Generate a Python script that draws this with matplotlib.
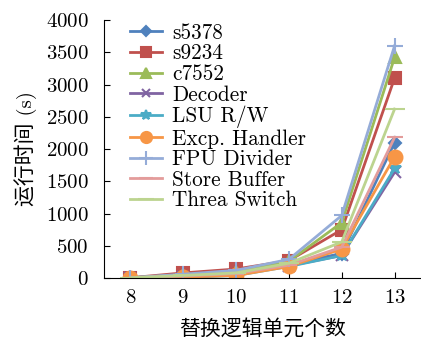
import matplotlib
matplotlib.use("Agg")
import matplotlib.pyplot as plt

plt.rcParams['font.family'] = ['cmr10', 'Noto Sans CJK SC']
plt.rcParams['axes.formatter.use_mathtext'] = True

x = [8, 9, 10, 11, 12, 13]
names = ["s5378", "s9234", "c7552", "Decoder", "LSU R/W",
         "Excp. Handler", "FPU Divider", "Store Buffer", "Threa Switch"]
s5378 = [5, 50, 100, 220, 380, 2100]
s9234 = [5, 80, 140, 270, 750, 3100]
c7552 = [5, 50, 100, 260, 860, 3420]
decoder = [3, 20, 50, 190, 350, 1640]
lsu = [3, 10, 40, 180, 350, 1700]
excp = [3, 15, 40, 180, 450, 1880]
fpu = [5, 60, 120, 290, 970, 3600]
store = [4, 30, 70, 200, 480, 2180]
threa = [4, 40, 80, 230, 560, 2620]
series = [s5378, s9234, c7552, decoder, lsu, excp, fpu, store, threa]

colors = ["#4F81BD", "#C0504D", "#9BBB59", "#8064A2", "#4BACC6",
          "#F79646", "#95ACD8", "#E39C9B", "#BCD48F"]
markers = ["D", "s", "^", "x", "*", "o", "+", "_", "_"]
msizes = [6, 9, 9, 8, 9, 10, 12, 12, 14]

fig = plt.figure(figsize=(4.21, 3.45), dpi=100)
ax = fig.add_axes([0.247, 0.194, 0.753, 0.748])

for vals, name, c, m, ms in zip(series, names, colors, markers, msizes):
    ax.plot(x, vals, color=c, marker=m, markersize=ms, linewidth=2,
            markeredgewidth=1.5, label=name)

ax.set_xlim(7.5, 13.5)
ax.set_ylim(0, 4000)
ax.set_xticks(x)
ax.set_yticks(range(0, 4001, 500))
ax.tick_params(direction='in', labelsize=15, length=4)
ax.tick_params(axis='y', pad=11)
ax.tick_params(axis='x', pad=8)
ax.spines['top'].set_visible(False)
ax.spines['right'].set_visible(False)
ax.set_xlabel("替换逻辑单元个数", fontsize=15, labelpad=8)
ax.set_ylabel("运行时间 (s)", fontsize=15, labelpad=6)

leg = ax.legend(loc='upper left', bbox_to_anchor=(0.055, 1.02), frameon=False,
                fontsize=15.3, labelspacing=0.05, handlelength=1.5,
                handletextpad=0.5, borderaxespad=0, markerscale=0.8)

fig.savefig("out.png", dpi=100)
